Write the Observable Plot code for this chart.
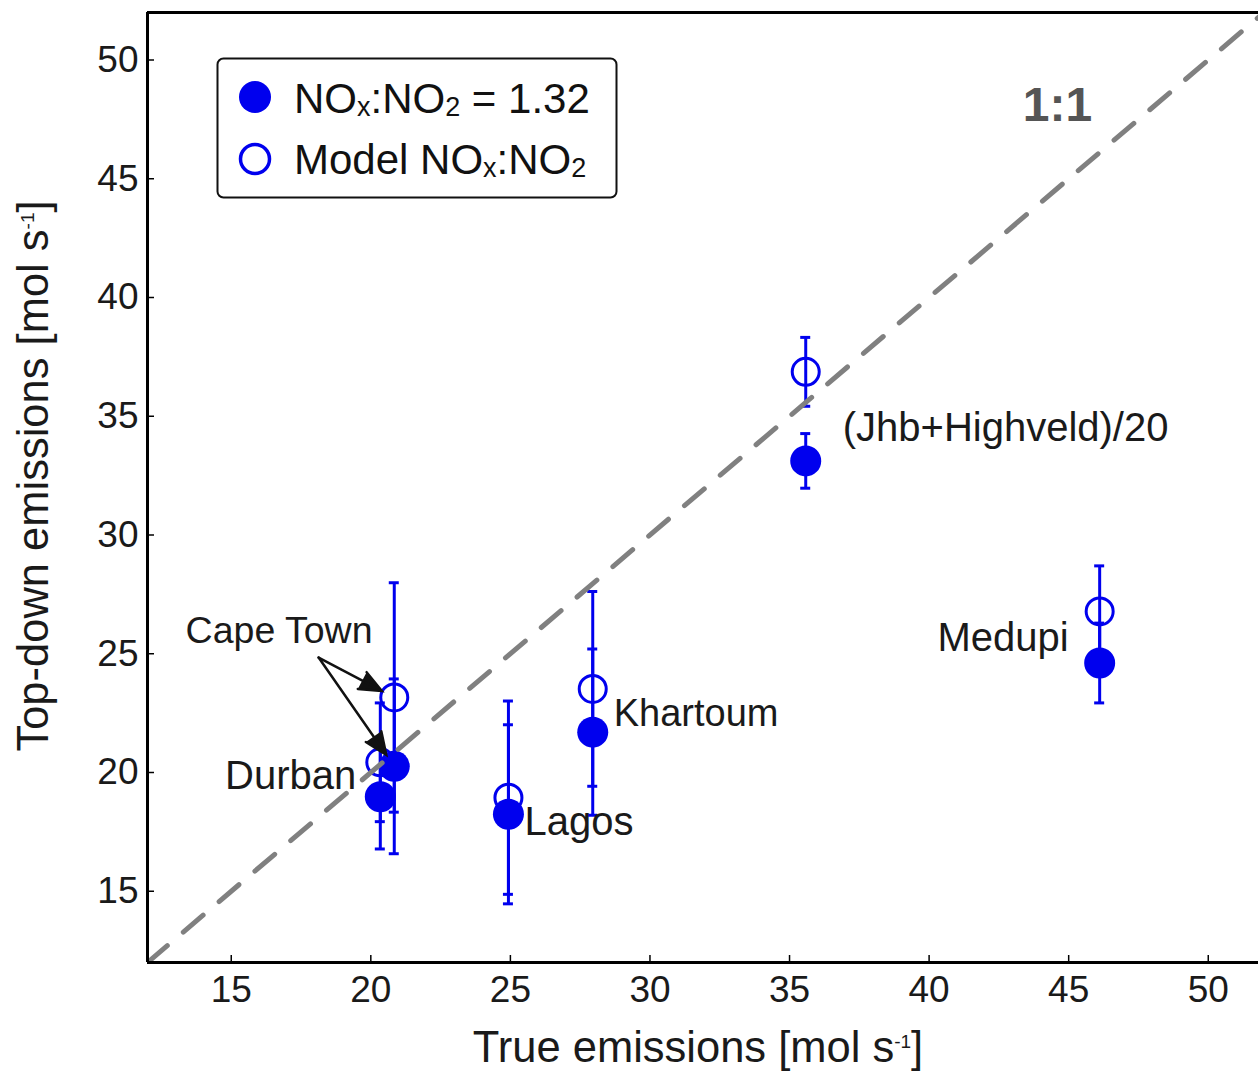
<!DOCTYPE html>
<html>
<head>
<meta charset="utf-8">
<script src="https://cdn.jsdelivr.net/npm/d3@7"></script>
<script src="https://cdn.jsdelivr.net/npm/@observablehq/plot@0.6"></script>
<style>
  html, body { margin: 0; padding: 0; background: white; }
  #wrap { position: relative; width: 1258px; height: 1076px; overflow: hidden; }
  #wrap > svg { position: absolute; left: 0; top: 0; }
</style>
</head>
<body>
<div id="wrap"></div>
<script>
// ---- data ----
const cities = ["Cape Town", "Durban", "Lagos", "Khartoum", "(Jhb+Highveld)/20", "Medupi"];
const trueEmissions = [20.84, 20.34, 24.93, 27.95, 35.58, 46.11];
// filled: NOx:NO2 = 1.32
const topDownFixed = [20.26, 18.98, 18.24, 21.70, 33.12, 24.61];
const topDownFixedErr = [3.68, 2.2, 3.77, 3.5, 1.15, 1.68];
// open: model NOx:NO2
const topDownModel = [23.16, 20.43, 18.94, 23.52, 36.87, 26.78];
const topDownModelErr = [4.83, 2.5, 4.07, 4.1, 1.45, 1.92];

const xTicks = [15, 20, 25, 30, 35, 40, 45, 50];
const yTicks = [15, 20, 25, 30, 35, 40, 45, 50];
const xDomain = [12, 51.8];
const yDomain = [12, 52];
const oneToOne = [12, 52];
const capeTownNote = {x: 18.13, y: 24.84};

const blue = "#0000ee";
const font = "'Liberation Sans', Arial, Helvetica, sans-serif";

const data = cities.map((name, i) => ({
  name,
  x: trueEmissions[i],
  fixed: topDownFixed[i],
  fixedErr: topDownFixedErr[i],
  model: topDownModel[i],
  modelErr: topDownModelErr[i]
}));
const caps = data.flatMap(d => [
  {x: d.x, y: d.model - d.modelErr},
  {x: d.x, y: d.model + d.modelErr},
  {x: d.x, y: d.fixed - d.fixedErr},
  {x: d.x, y: d.fixed + d.fixedErr}
]);
const capeTown = data.find(d => d.name === "Cape Town");
const capeArrows = [
  {x1: capeTownNote.x, y1: capeTownNote.y, x2: capeTown.x, y2: capeTown.model},
  {x1: capeTownNote.x, y1: capeTownNote.y, x2: capeTown.x, y2: capeTown.fixed}
];
const byName = n => data.filter(d => d.name === n);
const labelFont = 40;

const chart = Plot.plot({
  width: 1258,
  height: 1076,
  marginLeft: 147,
  marginRight: 0,
  marginTop: 12,
  marginBottom: 114,
  x: {domain: xDomain},
  y: {domain: yDomain},
  style: {fontFamily: font, fontSize: "37px", color: "#1a1a1a", background: "white", overflow: "visible"},
  marks: [
    // error bars
    Plot.ruleX(data, {x: "x", y1: d => d.model - d.modelErr, y2: d => d.model + d.modelErr, stroke: blue, strokeWidth: 3}),
    Plot.ruleX(data, {x: "x", y1: d => d.fixed - d.fixedErr, y2: d => d.fixed + d.fixedErr, stroke: blue, strokeWidth: 3}),
    Plot.ruleY(caps, {y: "y", x1: "x", x2: "x", insetLeft: -5, insetRight: -5, stroke: blue, strokeWidth: 3}),
    // markers
    Plot.dot(data, {x: "x", y: "model", r: 13.5, stroke: blue, strokeWidth: 3, fill: "none"}),
    Plot.dot(data, {x: "x", y: "fixed", r: 15.5, fill: blue, stroke: "none"}),
    // Cape Town annotation
    Plot.arrow(capeArrows, {x1: "x1", y1: "y1", x2: "x2", y2: "y2", stroke: "#111", fill: "#111", strokeWidth: 2.5,
      headLength: 14.5, headAngle: 46, insetEnd: 14, strokeLinejoin: "miter", strokeMiterlimit: 10}),
    Plot.text([capeTownNote], {x: "x", y: "y", text: () => "Cape Town", textAnchor: "start", dx: -133, dy: -27, fontSize: 37.5, fill: "#1a1a1a"}),
    // city labels
    Plot.text(byName("(Jhb+Highveld)/20"), {x: "x", y: "fixed", text: "name", textAnchor: "start", dx: 37, dy: -33, fontSize: labelFont, fill: "#1a1a1a"}),
    Plot.text(byName("Medupi"), {x: "x", y: "fixed", text: "name", textAnchor: "end", dx: -31, dy: -25, fontSize: labelFont, fill: "#1a1a1a"}),
    Plot.text(byName("Khartoum"), {x: "x", y: "fixed", text: "name", textAnchor: "start", dx: 21, dy: -18, fontSize: 38, fill: "#1a1a1a"}),
    Plot.text(byName("Lagos"), {x: "x", y: "fixed", text: "name", textAnchor: "start", dx: 16, dy: 8, fontSize: labelFont, fill: "#1a1a1a"}),
    Plot.text(byName("Durban"), {x: "x", y: "fixed", text: "name", textAnchor: "end", dx: -24, dy: -21, fontSize: labelFont, fill: "#1a1a1a"}),
    // 1:1 line
    Plot.line(oneToOne, {x: d => d, y: d => d, stroke: "#808080", strokeWidth: 5, strokeDasharray: "26,21", clip: true}),
    Plot.text(["1:1"], {frameAnchor: "top-right", textAnchor: "middle", lineAnchor: "middle", dx: -201, dy: 93, fontSize: 48, fontWeight: "bold", fill: "#555555"}),
    // frame (top, bottom, left)
    Plot.ruleY([yDomain[1]], {stroke: "black", strokeWidth: 3}),
    Plot.ruleY([yDomain[0]], {stroke: "black", strokeWidth: 3}),
    Plot.ruleX([xDomain[0]], {stroke: "black", strokeWidth: 3}),
    // inward ticks
    Plot.axisX({ticks: xTicks, tickSize: 7, dy: -7, tickFormat: () => "", label: null, strokeWidth: 1.5, stroke: "black"}),
    Plot.axisY({ticks: yTicks, tickSize: 7, dx: 7, tickFormat: () => "", label: null, strokeWidth: 1.5, stroke: "black"}),
    // tick labels
    Plot.axisX({ticks: xTicks, tickSize: 0, tickPadding: 13, label: null, fontSize: 37, fill: "#1a1a1a"}),
    Plot.axisY({ticks: yTicks, tickSize: 0, tickPadding: 9, label: null, fontSize: 37, fill: "#1a1a1a"})
  ]
});

const wrap = document.getElementById("wrap");
wrap.appendChild(chart);

// overlay: legend and axis titles (with sub/superscripts)
const ns = "http://www.w3.org/2000/svg";
const ov = document.createElementNS(ns, "svg");
ov.setAttribute("width", 1258);
ov.setAttribute("height", 1076);
ov.setAttribute("font-family", font);
ov.innerHTML = `
  <rect x="217.5" y="58.5" width="399" height="139" rx="6" ry="6" fill="white" stroke="#111" stroke-width="2"/>
  <circle cx="255" cy="97" r="16" fill="${blue}"/>
  <circle cx="255" cy="159" r="14.5" fill="none" stroke="${blue}" stroke-width="3.5"/>
  <text x="294" y="113" font-size="42" fill="#111">NO<tspan font-size="27" dy="3">x</tspan><tspan dy="-3">:NO</tspan><tspan font-size="27" dy="3">2</tspan><tspan dy="-3"> = 1.32</tspan></text>
  <text x="294" y="174" font-size="42" fill="#111">Model NO<tspan font-size="27" dy="3">x</tspan><tspan dy="-3">:NO</tspan><tspan font-size="27" dy="3">2</tspan></text>
  <text x="698" y="1062" font-size="43.5" fill="#1a1a1a" text-anchor="middle">True emissions [mol s<tspan font-size="19" dy="-14">-1</tspan><tspan dy="14">]</tspan></text>
  <text transform="translate(48,476) rotate(-90)" font-size="43.5" fill="#1a1a1a" text-anchor="middle">Top-down emissions [mol s<tspan font-size="19" dy="-14">-1</tspan><tspan dy="14">]</tspan></text>
`;
ov.style.position = "absolute";
ov.style.left = "0px";
ov.style.top = "0px";
wrap.appendChild(ov);
</script>
</body>
</html>
